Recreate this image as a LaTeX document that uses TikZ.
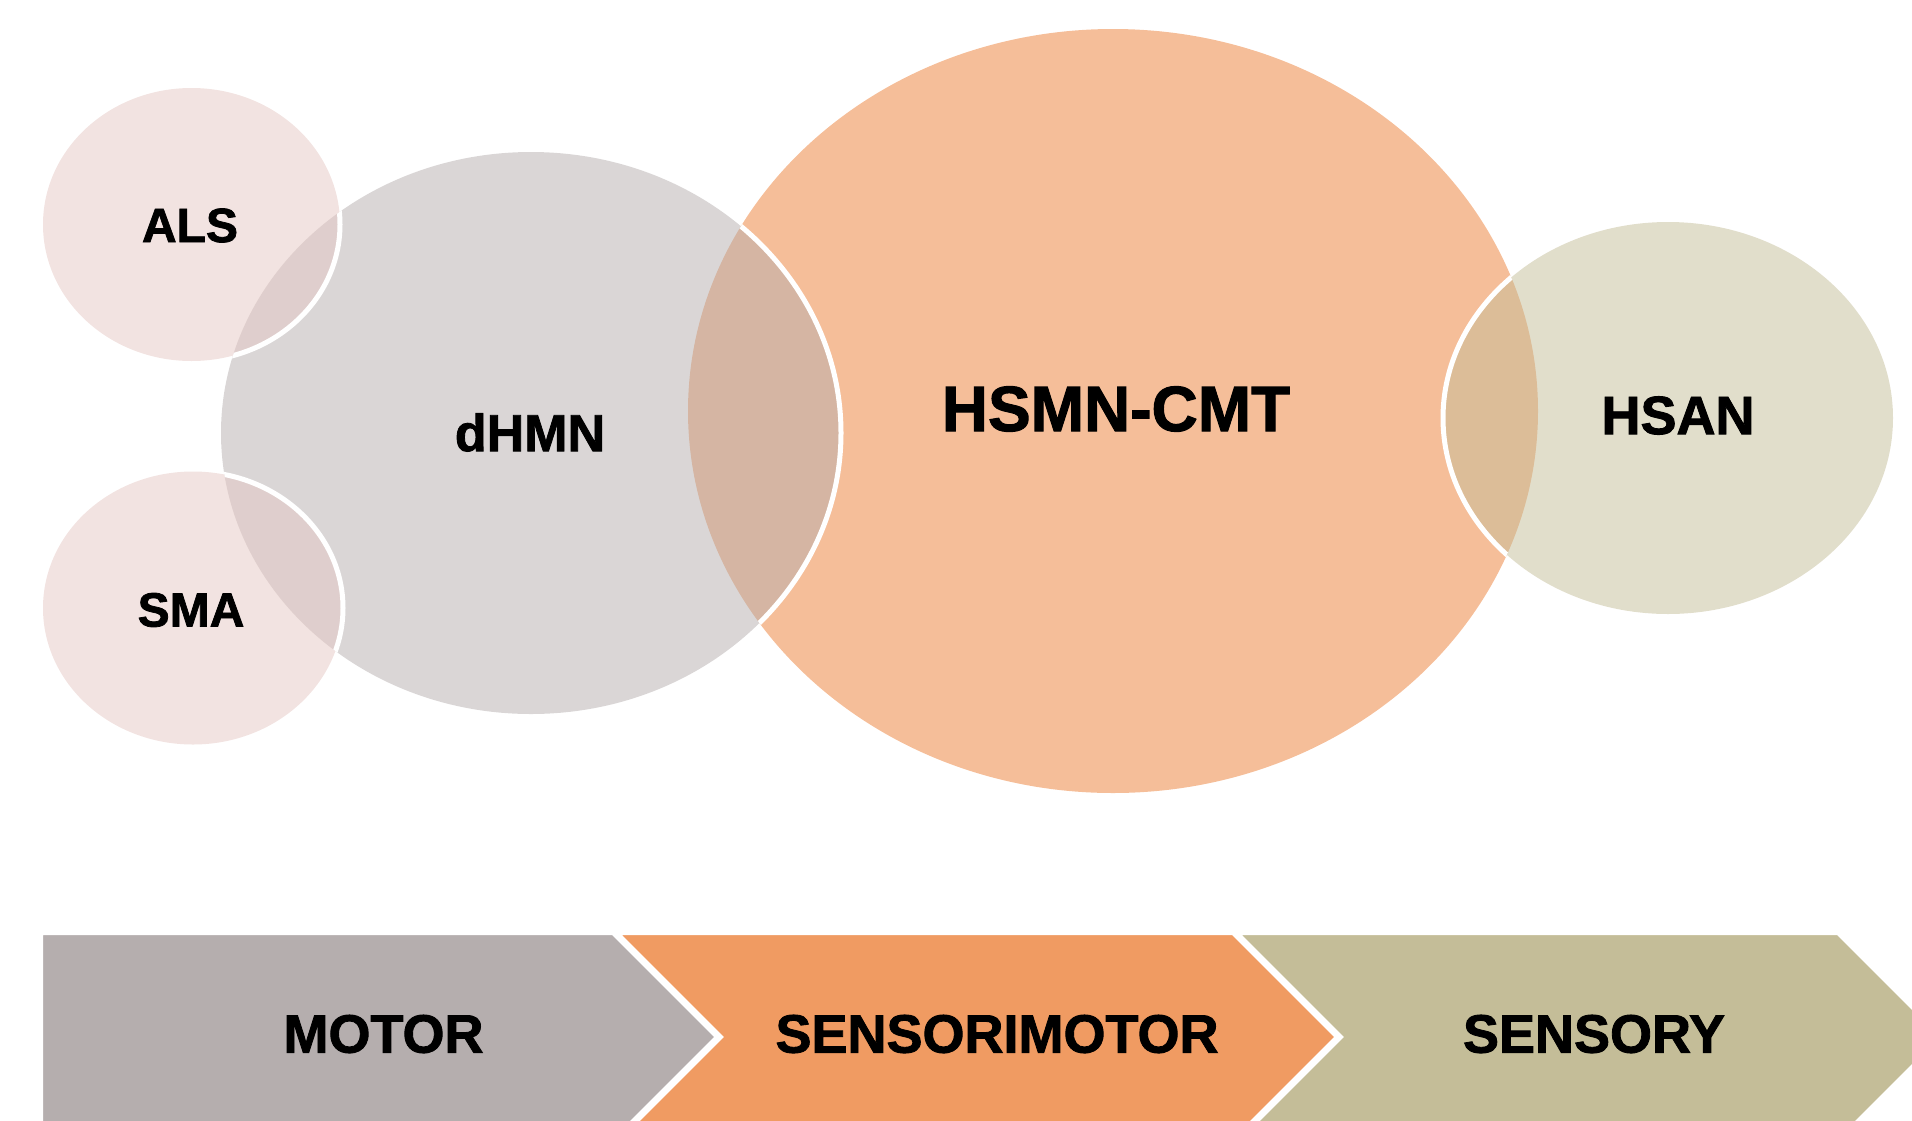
\documentclass[tikz,border=0pt]{standalone}
\usepackage{fontspec}
\setmainfont{Liberation Sans}[BoldFeatures={FakeBold=1.6}]
\begin{document}
\begin{tikzpicture}[x=1pt,y=-1pt,
  lbl/.style={font=\bfseries, text=black, inner sep=0pt},
  rim/.style={draw=white, line width=5pt},
  band/.style={draw=white, line width=4pt, line join=miter}]
\definecolor{cmtorange}{HTML}{F09B62}
\definecolor{motorgray}{HTML}{B5AEAE}
\definecolor{alspink}{HTML}{E5C7C3}
\definecolor{sensoryolive}{HTML}{C4BD98}

\useasboundingbox (0,0) rectangle (1912,1120);
\clip (0,0) rectangle (1912,1120);

% ellipse outlines, reused for fills and for clipping the white rims
\def\pHSMN{(1113,411) ellipse [x radius=425pt, y radius=382pt]}
\def\pDHMN{(531,433) ellipse [x radius=310pt, y radius=281pt]}
\def\pALS{(191.5,224.5) ellipse [x radius=148.5pt, y radius=136.5pt]}
\def\pSMA{(193,608) ellipse [x radius=150pt, y radius=136.5pt]}
\def\pHSAN{(1668,418) ellipse [x radius=225pt, y radius=196pt]}

% translucent fills, back to front
\fill[cmtorange, fill opacity=0.65] \pHSMN;
\fill[motorgray, fill opacity=0.5] \pDHMN;
\fill[alspink, fill opacity=0.5] \pALS;
\fill[alspink, fill opacity=0.5] \pSMA;
\fill[sensoryolive, fill opacity=0.5] \pHSAN;

% white rims where a front ellipse crosses the one behind it
\begin{scope}
  \clip \pHSMN;
  \draw[rim] \pDHMN;
  \draw[rim] \pHSAN;
\end{scope}
\begin{scope}
  \clip \pDHMN;
  \draw[rim] \pALS;
  \draw[rim] \pSMA;
\end{scope}

% ellipse labels
\node[lbl, font=\bfseries\fontsize{48}{48}\selectfont] (als) at (190,225.5) {ALS};
\node[lbl, font=\bfseries\fontsize{48}{48}\selectfont] (sma) at (191,610) {SMA};
\node[lbl, font=\bfseries\fontsize{52}{52}\selectfont] (dhmn) at (530,432.5) {dHMN};
\node[lbl, font=\bfseries\fontsize{64}{64}\selectfont] (hsmn) at (1116,409) {HSMN-CMT};
\node[lbl, font=\bfseries\fontsize{54}{54}\selectfont] (hsan) at (1678,415.5) {HSAN};

% process band
\filldraw[band, fill=motorgray] (41,933) -- (613,933) -- (717,1037) -- (613,1141) -- (41,1141) -- cycle;
\filldraw[band, fill=cmtorange] (617,933) -- (1233,933) -- (1337,1037) -- (1233,1141) -- (617,1141) -- (721,1037) -- cycle;
\filldraw[band, fill=sensoryolive] (1237,933) -- (1838,933) -- (1942,1037) -- (1838,1141) -- (1237,1141) -- (1341,1037) -- cycle;

\node[lbl, font=\bfseries\fontsize{54}{54}\selectfont] (motor) at (383.5,1034) {MOTOR};
\node[lbl, font=\bfseries\fontsize{54}{54}\selectfont] (sensorimotor) at (997,1034) {SENSORIMOTOR};
\node[lbl, font=\bfseries\fontsize{54}{54}\selectfont] (sensory) at (1594,1034) {SENSORY};
\end{tikzpicture}
\end{document}
